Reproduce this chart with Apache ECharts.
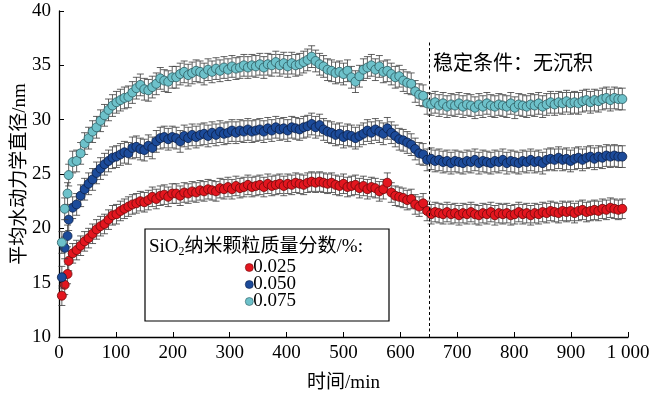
<!DOCTYPE html>
<html><head><meta charset="utf-8">
<script src="https://cdn.jsdelivr.net/npm/echarts@6/dist/echarts.min.js"></script>
<style>html,body{margin:0;padding:0;background:#fff}#c{width:650px;height:395px}</style>
</head><body><div id="c"></div>
<script>
// time (min)
const times = [
5,10,15,17,24,31,38,45,52,59,
66,73,80,87,94,101,108,115,122,129,
136,143,150,157,164,171,178,185,192,199,
206,213,220,227,234,241,248,255,262,269,
276,283,290,297,304,311,318,325,332,339,
346,353,360,367,374,381,388,395,402,409,
416,423,430,437,444,451,458,465,472,479,
486,493,500,507,514,521,528,535,542,549,
556,563,570,577,584,591,598,605,612,619,
626,633,640,647,654,661,668,675,682,689,
696,703,710,717,724,731,738,745,752,759,
766,773,780,787,794,801,808,815,822,829,
836,843,850,857,864,871,878,885,892,899,
906,913,920,927,934,941,948,955,962,969,
976,983,990];
// SiO2 0.025 %
const red = [
13.8,14.8,15.8,17.0,17.7,18.0,18.4,18.8,19.1,19.5,
19.9,20.2,20.4,20.8,21.2,21.3,21.6,21.8,22.0,22.2,
22.3,22.5,22.4,22.6,22.9,22.7,23.0,23.1,22.9,23.2,
23.2,23.0,23.3,23.2,23.4,23.3,23.5,23.4,23.6,23.5,
23.4,23.7,23.6,23.8,23.6,23.9,23.7,23.8,24.0,23.8,
23.9,24.0,23.8,24.1,23.9,24.0,24.1,23.9,24.1,24.0,
24.2,24.1,24.0,24.2,24.3,24.2,24.3,24.2,24.1,24.2,
24.0,23.9,24.1,23.8,23.9,24.0,23.7,23.9,23.6,23.8,
23.7,23.4,23.6,24.2,23.3,23.0,22.9,22.8,22.6,22.7,
22.2,22.0,22.3,21.6,21.3,21.5,21.4,21.3,21.5,21.3,
21.4,21.2,21.4,21.3,21.5,21.3,21.2,21.4,21.3,21.5,
21.2,21.4,21.3,21.4,21.2,21.3,21.5,21.3,21.4,21.2,
21.4,21.3,21.5,21.4,21.6,21.5,21.4,21.6,21.5,21.6,
21.4,21.6,21.7,21.5,21.6,21.7,21.6,21.8,21.7,21.9,
21.8,21.7,21.8];
// SiO2 0.050 %
const blue = [
15.5,18.2,19.3,20.8,21.9,22.2,23.0,23.6,24.1,24.5,
25.1,25.5,25.9,26.2,26.5,26.6,26.8,27.0,26.9,27.4,
27.5,27.3,27.2,27.6,27.4,28.0,28.3,28.4,28.2,28.4,
28.3,28.0,28.5,28.3,28.6,28.4,28.6,28.7,28.5,28.8,
28.6,28.9,28.7,28.8,29.0,28.8,29.0,28.9,29.1,28.9,
29.0,29.1,28.9,29.2,29.0,29.3,29.1,29.2,29.0,29.3,
29.2,29.1,29.3,29.4,29.6,29.3,29.5,29.1,28.9,28.8,
28.6,28.7,28.4,28.6,28.5,28.3,28.5,28.7,29.0,28.8,
29.1,28.9,28.7,29.2,28.8,28.5,28.2,28.1,27.9,27.7,
27.3,26.9,26.8,26.3,26.4,26.2,26.3,26.1,26.2,26.0,
26.2,26.1,26.0,26.2,26.1,26.3,26.0,26.2,26.1,26.0,
26.2,26.1,26.3,26.0,26.2,26.1,26.0,26.2,26.1,26.3,
26.1,26.2,26.0,26.3,26.4,26.3,26.5,26.3,26.4,26.2,
26.4,26.5,26.3,26.5,26.6,26.4,26.6,26.5,26.7,26.6,
26.7,26.6,26.6];
// SiO2 0.075 %
const cyan = [
18.7,21.8,23.2,24.9,26.1,26.2,26.9,27.8,28.3,28.9,
29.3,29.9,30.4,30.9,31.3,31.6,31.8,32.0,32.1,32.5,
32.9,33.2,32.8,32.7,33.0,33.3,33.8,33.6,33.5,33.9,
33.9,34.2,34.4,34.1,34.3,34.5,34.4,34.2,34.6,34.4,
34.7,34.5,34.8,34.6,34.9,34.7,34.8,35.0,34.8,35.0,
34.9,35.1,34.8,35.1,35.0,35.3,35.0,35.2,34.9,35.2,
35.0,35.1,35.3,35.5,35.8,35.4,35.1,34.9,34.6,34.5,
34.3,34.4,34.2,34.5,33.9,33.5,34.0,34.6,34.8,35.0,
34.6,34.9,34.4,34.5,34.2,33.9,34.0,33.6,33.4,33.3,
32.6,32.3,32.2,31.5,31.4,31.6,31.3,31.5,31.2,31.4,
31.3,31.5,31.2,31.4,31.3,31.1,31.4,31.2,31.5,31.3,
31.2,31.4,31.3,31.2,31.5,31.1,31.4,31.3,31.2,31.4,
31.3,31.5,31.2,31.4,31.6,31.4,31.6,31.5,31.7,31.5,
31.6,31.5,31.7,31.8,31.6,31.8,31.7,31.9,32.0,31.8,
32.0,31.9,31.9];
const errRed = 0.9, errBlue = 1.0, errCyan = 1.0;
const seriesNames = ['0.025','0.050','0.075'];
const xTicks = [0,100,200,300,400,500,600,700,800,900,1000];
const yTicks = [10,15,20,25,30,35,40];
const steadyTime = 650;

const serif = '"Liberation Serif","Times New Roman","Noto Sans CJK SC",serif';
const cols = [
  {fill:'#e3161f', border:'#6e0a0a'},
  {fill:'#1c4b9a', border:'#0b1f48'},
  {fill:'#6dc1ca', border:'#2c5a60'}
];
const vals = [red, blue, cyan];
const errs = [errRed, errBlue, errCyan];

function errRender(params, api){
  const x = api.value(0), y = api.value(1), e = api.value(2);
  const hi = api.coord([x, y + e]), lo = api.coord([x, y - e]);
  const w = 3.5;
  const st = {stroke:'#3a3a3a', lineWidth:0.8};
  return {type:'group', children:[
    {type:'line', shape:{x1:hi[0], y1:hi[1], x2:lo[0], y2:lo[1]}, style:st},
    {type:'line', shape:{x1:hi[0]-w, y1:hi[1], x2:hi[0]+w, y2:hi[1]}, style:st},
    {type:'line', shape:{x1:lo[0]-w, y1:lo[1], x2:lo[0]+w, y2:lo[1]}, style:st}
  ]};
}

const series = [];
vals.forEach((v, k) => {
  series.push({
    type:'custom', name:'err'+k, renderItem: errRender, z: 2 + k*2,
    encode:{x:0, y:1}, silent:true,
    data: times.map((t,i) => [t, v[i], errs[k]])
  });
  series.push({
    type:'scatter', name: seriesNames[k], symbol:'circle', symbolSize:9, z: 3 + k*2,
    itemStyle:{color: cols[k].fill, borderColor: cols[k].border, borderWidth:0.8, opacity:1},
    data: times.map((t,i) => [t, v[i]]),
    markLine: k === 0 ? {
      silent:true, symbol:['none','none'], label:{show:false},
      lineStyle:{color:'#000', type:[3,2.5], width:1},
      data:[[{coord:[steadyTime,10]},{coord:[steadyTime,37.1]}]]
    } : undefined
  });
});

const chart = echarts.init(document.getElementById('c'));
chart.setOption({
  animation:false,
  backgroundColor:'#fff',
  grid:{left:59, right:22, top:11, bottom:58, containLabel:false, outerBoundsMode:'none'},
  xAxis:{
    type:'value', min:xTicks[0], max:xTicks[xTicks.length-1], interval:100,
    name:'时间/min', nameLocation:'middle', nameGap:37, nameMoveOverlap:false,
    nameTextStyle:{fontFamily:serif, fontSize:19, color:'#000'},
    axisLine:{lineStyle:{color:'#000', width:1.3}},
    axisTick:{inside:true, length:5, lineStyle:{color:'#000', width:1}},
    axisLabel:{fontFamily:serif, fontSize:19, color:'#000', margin:7,
      formatter: v => v === 1000 ? '1 000' : String(v)},
    splitLine:{show:false}
  },
  yAxis:{
    type:'value', min:yTicks[0], max:yTicks[yTicks.length-1], interval:5,
    name:'平均水动力学直径/nm', nameLocation:'middle', nameGap:29, nameMoveOverlap:false,
    nameTextStyle:{fontFamily:serif, fontSize:19, color:'#000'},
    axisLine:{show:true, lineStyle:{color:'#000', width:1.3}},
    axisTick:{show:true, inside:true, length:5, lineStyle:{color:'#000', width:1}},
    axisLabel:{fontFamily:serif, fontSize:19, color:'#000', margin:8},
    splitLine:{show:false}
  },
  legend:{
    data: seriesNames,
    orient:'vertical', left:240, top:253, itemWidth:8, itemHeight:8, itemGap:-2,
    icon:'circle',
    itemStyle:{borderWidth:0.6},
    textStyle:{fontFamily:serif, fontSize:19, lineHeight:18, color:'#000', padding:[0,0,0,-5]}
  },
  graphic:[
    {type:'rect', shape:{x:145, y:229, width:244, height:92},
     style:{fill:'none', stroke:'#000', lineWidth:1.2}, z:10},
    {type:'text', x:149, y:247, z:11,
     style:{text:'SiO{s|2}纳米颗粒质量分数/%:', verticalAlign:'middle',
       font:'19px '+serif, fill:'#000',
       rich:{s:{fontSize:12, fontFamily:serif, verticalAlign:'bottom', padding:[10,0,0,0]}}}},
    {type:'text', x:433, y:65, z:11,
     style:{text:'稳定条件：无沉积', verticalAlign:'middle', font:'20px '+serif, fill:'#000'}}
  ],
  series: series
});
</script></body></html>
